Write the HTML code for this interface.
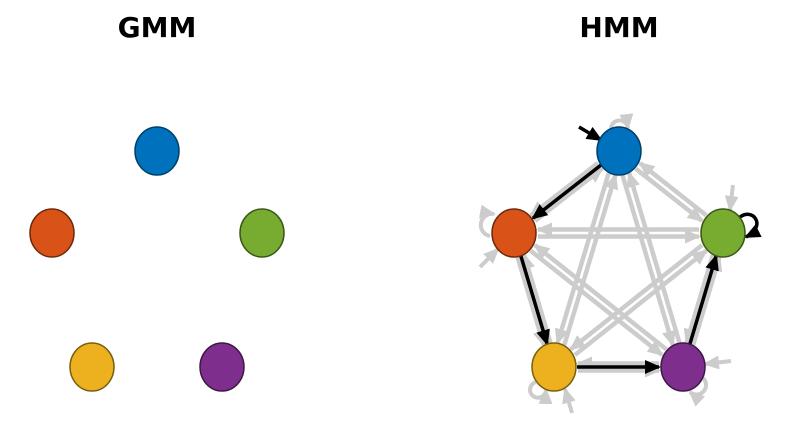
<!DOCTYPE html>
<html><head><meta charset="utf-8"><style>
html,body{margin:0;padding:0;background:#fff;width:792px;height:422px;overflow:hidden}
svg{display:block}
text{font-family:"DejaVu Sans","Liberation Sans",sans-serif;font-weight:bold;font-size:28px}
</style></head><body>
<svg id="s" width="792" height="422" viewBox="0 0 792 422">
<defs>
<marker id="ag" markerUnits="userSpaceOnUse" markerWidth="20" markerHeight="20" refX="14" refY="8" orient="auto"><path d="M0,1 L16,8 L0,15 Z" fill="#cccccc"/></marker>
<marker id="ab" markerUnits="userSpaceOnUse" markerWidth="20" markerHeight="20" refX="14" refY="8" orient="auto"><path d="M0,1 L16,8 L0,15 Z" fill="#000"/></marker>
</defs>
<text x="157" y="37" text-anchor="middle">GMM</text>
<text x="619" y="37" text-anchor="middle">HMM</text>
<g id="edges"></g>
<g id="nodes"></g>
</svg>
<script>
var ns="http://www.w3.org/2000/svg";
function el(t,a,p){var e=document.createElementNS(ns,t);for(var k in a)e.setAttribute(k,a[k]);(p||document.getElementById('edges')).appendChild(e);return e;}
var cols=[["#0072bd","#003f6a"],["#d95319","#6e2a0c"],["#77ac30","#3b5718"],["#7e2f8e","#3f1747"],["#edb120","#776010"]];
var H=[[619,151],[514,233],[723,233],[683,367],[554,367]];
var G=[[157,151],[52,233],[262,233],[222,367],[92,367]];
var N=document.getElementById('nodes');
for(var i=0;i<5;i++)for(var j=0;j<5;j++){if(i==j)continue;
 var a=H[i],b=H[j],dx=b[0]-a[0],dy=b[1]-a[1],L=Math.hypot(dx,dy),ux=dx/L,uy=dy/L,px=-uy*3.5,py=ux*3.5;
 el('line',{x1:a[0]+ux*24+px,y1:a[1]+uy*24+py,x2:b[0]-ux*24+px,y2:b[1]-uy*24+py,stroke:'#cccccc','stroke-width':4.5,'marker-end':'url(#ag)'});}
el('path',{d:'M611,130 A8,8 0 1 1 628,128',fill:'none',stroke:'#ccc','stroke-width':4,'marker-end':'url(#ag)'});
el('path',{d:'M490,236 A8,8 0 1 1 494,214',fill:'none',stroke:'#ccc','stroke-width':4,'marker-end':'url(#ag)'});
el('path',{d:'M536,382 A8,8 0 1 0 546,390',fill:'none',stroke:'#ccc','stroke-width':4,'marker-end':'url(#ag)'});
el('path',{d:'M703,378 A8,8 0 1 1 690,392',fill:'none',stroke:'#ccc','stroke-width':4,'marker-end':'url(#ag)'});
el('line',{x1:733,y1:185,x2:730,y2:210,stroke:'#ccc','stroke-width':4,'marker-end':'url(#ag)'});
el('line',{x1:480,y1:267,x2:498,y2:249,stroke:'#ccc','stroke-width':4,'marker-end':'url(#ag)'});
el('line',{x1:572,y1:413,x2:565,y2:389,stroke:'#ccc','stroke-width':4,'marker-end':'url(#ag)'});
el('line',{x1:731,y1:361,x2:705,y2:364,stroke:'#ccc','stroke-width':4,'marker-end':'url(#ag)'});
var P=[[0,1],[1,4],[4,3],[3,2]];
P.forEach(function(p){var a=H[p[0]],b=H[p[1]],dx=b[0]-a[0],dy=b[1]-a[1],L=Math.hypot(dx,dy),ux=dx/L,uy=dy/L;
 el('line',{x1:a[0]+ux*23,y1:a[1]+uy*23,x2:b[0]-ux*24,y2:b[1]-uy*24,stroke:'#000','stroke-width':3.5,'marker-end':'url(#ab)'});});
el('line',{x1:579,y1:127,x2:601,y2:140,stroke:'#000','stroke-width':3.5,'marker-end':'url(#ab)'});
el('path',{d:'M739,218 C752,206 768,226 746,237',fill:'none',stroke:'#000','stroke-width':3.5,'marker-end':'url(#ab)'});
[H,G].forEach(function(S){S.forEach(function(c,i){el('ellipse',{cx:c[0],cy:c[1],rx:22,ry:24,fill:cols[i][0],stroke:cols[i][1],'stroke-width':1.5},N);});});
</script>
</body></html>
